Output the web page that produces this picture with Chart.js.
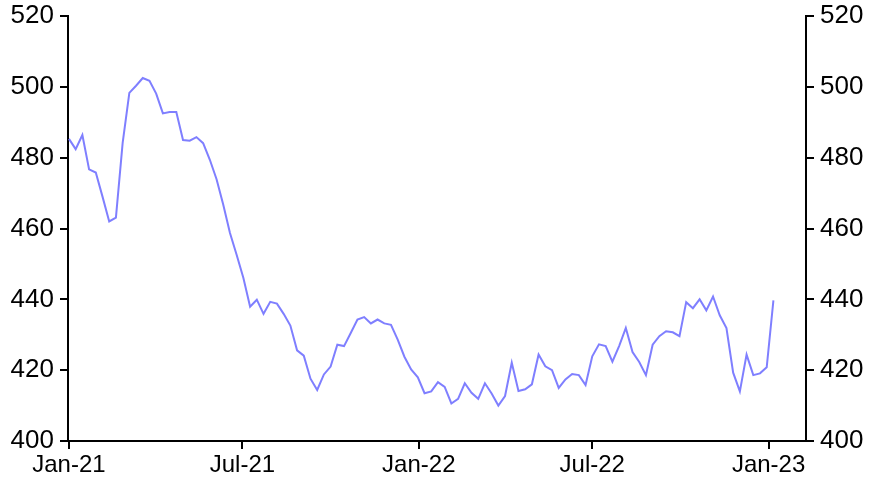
<!DOCTYPE html>
<html>
<head>
<meta charset="utf-8">
<script src="https://cdn.jsdelivr.net/npm/chart.js@4"></script>
<style>
html,body{margin:0;padding:0;background:#fff;}
#wrap{width:874px;height:483px;}
</style>
</head>
<body>
<div id="wrap"><canvas id="chart"></canvas></div>
<script>

// weekly values, first week of Jan 2021 to first week of Jan 2023
const values = [
485.3,482.4,486.4,476.7,475.8,469.0,462.0,463.1,484.1,498.3,
500.3,502.5,501.7,498.1,492.5,492.9,492.9,485.0,484.8,485.8,
484.1,479.4,473.9,466.7,458.7,452.5,446.0,437.9,439.9,435.9,
439.3,438.8,435.9,432.6,425.6,424.1,417.6,414.4,418.8,421.0,
427.2,426.8,430.5,434.3,435.0,433.2,434.3,433.2,432.8,428.6,
423.8,420.2,418.0,413.5,414.0,416.6,415.3,410.6,411.9,416.3,
413.6,411.9,416.3,413.4,410.0,412.7,422.1,414.1,414.6,416.0,
424.4,421.1,420.0,415.0,417.4,418.9,418.6,415.8,423.9,427.3,
426.8,422.4,426.8,431.9,425.1,422.3,418.6,427.2,429.6,431.0,
430.7,429.6,439.2,437.5,440.0,436.9,440.8,435.5,431.9,419.3,
414.0,424.4,418.6,419.1,420.8,439.7
];

// days since 1 Jan 2021
const days = values.map((v,i)=>i*7);

const tickDays = [0,181,365,546,730];
const tickLabels = ["Jan-21","Jul-21","Jan-22","Jul-22","Jan-23"];

const yTicks = [400,420,440,460,480,500,520];

const fontFamily = "'Liberation Sans', Arial, sans-serif";

const axisLook = {
grid:{drawOnChartArea:false,drawTicks:true,tickLength:8,color:"#000",lineWidth:2},
border:{color:"#000",width:2}
};

function fixY(s){
s.width=68;
s.paddingTop=0;
s.paddingBottom=0;
}

new Chart(document.getElementById("chart"),{
type:"line",
data:{
datasets:[{
data:days.map((d,i)=>({x:d,y:values[i]})),
borderColor:"#7f7fff",
borderWidth:2,
pointRadius:0,
tension:0,
fill:false
}]
},
options:{
responsive:true,
maintainAspectRatio:false,
animation:false,
layout:{padding:{top:16,left:0,right:0,bottom:0}},
plugins:{legend:{display:false},tooltip:{enabled:false}},
scales:{
x:{
type:"linear",
min:-1,
max:769,
...axisLook,
afterBuildTicks:s=>{s.ticks=tickDays.map(v=>({value:v}));},
ticks:{
color:"#000",
font:{family:fontFamily,size:24},
maxRotation:0,
autoSkip:false,
padding:2,
callback:(v)=>tickLabels[tickDays.indexOf(v)]
},
afterFit:s=>{s.height=42;}
},
y:{
position:"left",
min:400,
max:520,
...axisLook,
afterBuildTicks:s=>{s.ticks=yTicks.map(v=>({value:v}));},
ticks:{color:"#000",font:{family:fontFamily,size:26},padding:6},
afterFit:fixY
},
y2:{
position:"right",
min:400,
max:520,
...axisLook,
afterBuildTicks:s=>{s.ticks=yTicks.map(v=>({value:v}));},
ticks:{color:"#000",font:{family:fontFamily,size:26},padding:6},
afterFit:fixY
}
}
}
});

</script>
</body>
</html>
